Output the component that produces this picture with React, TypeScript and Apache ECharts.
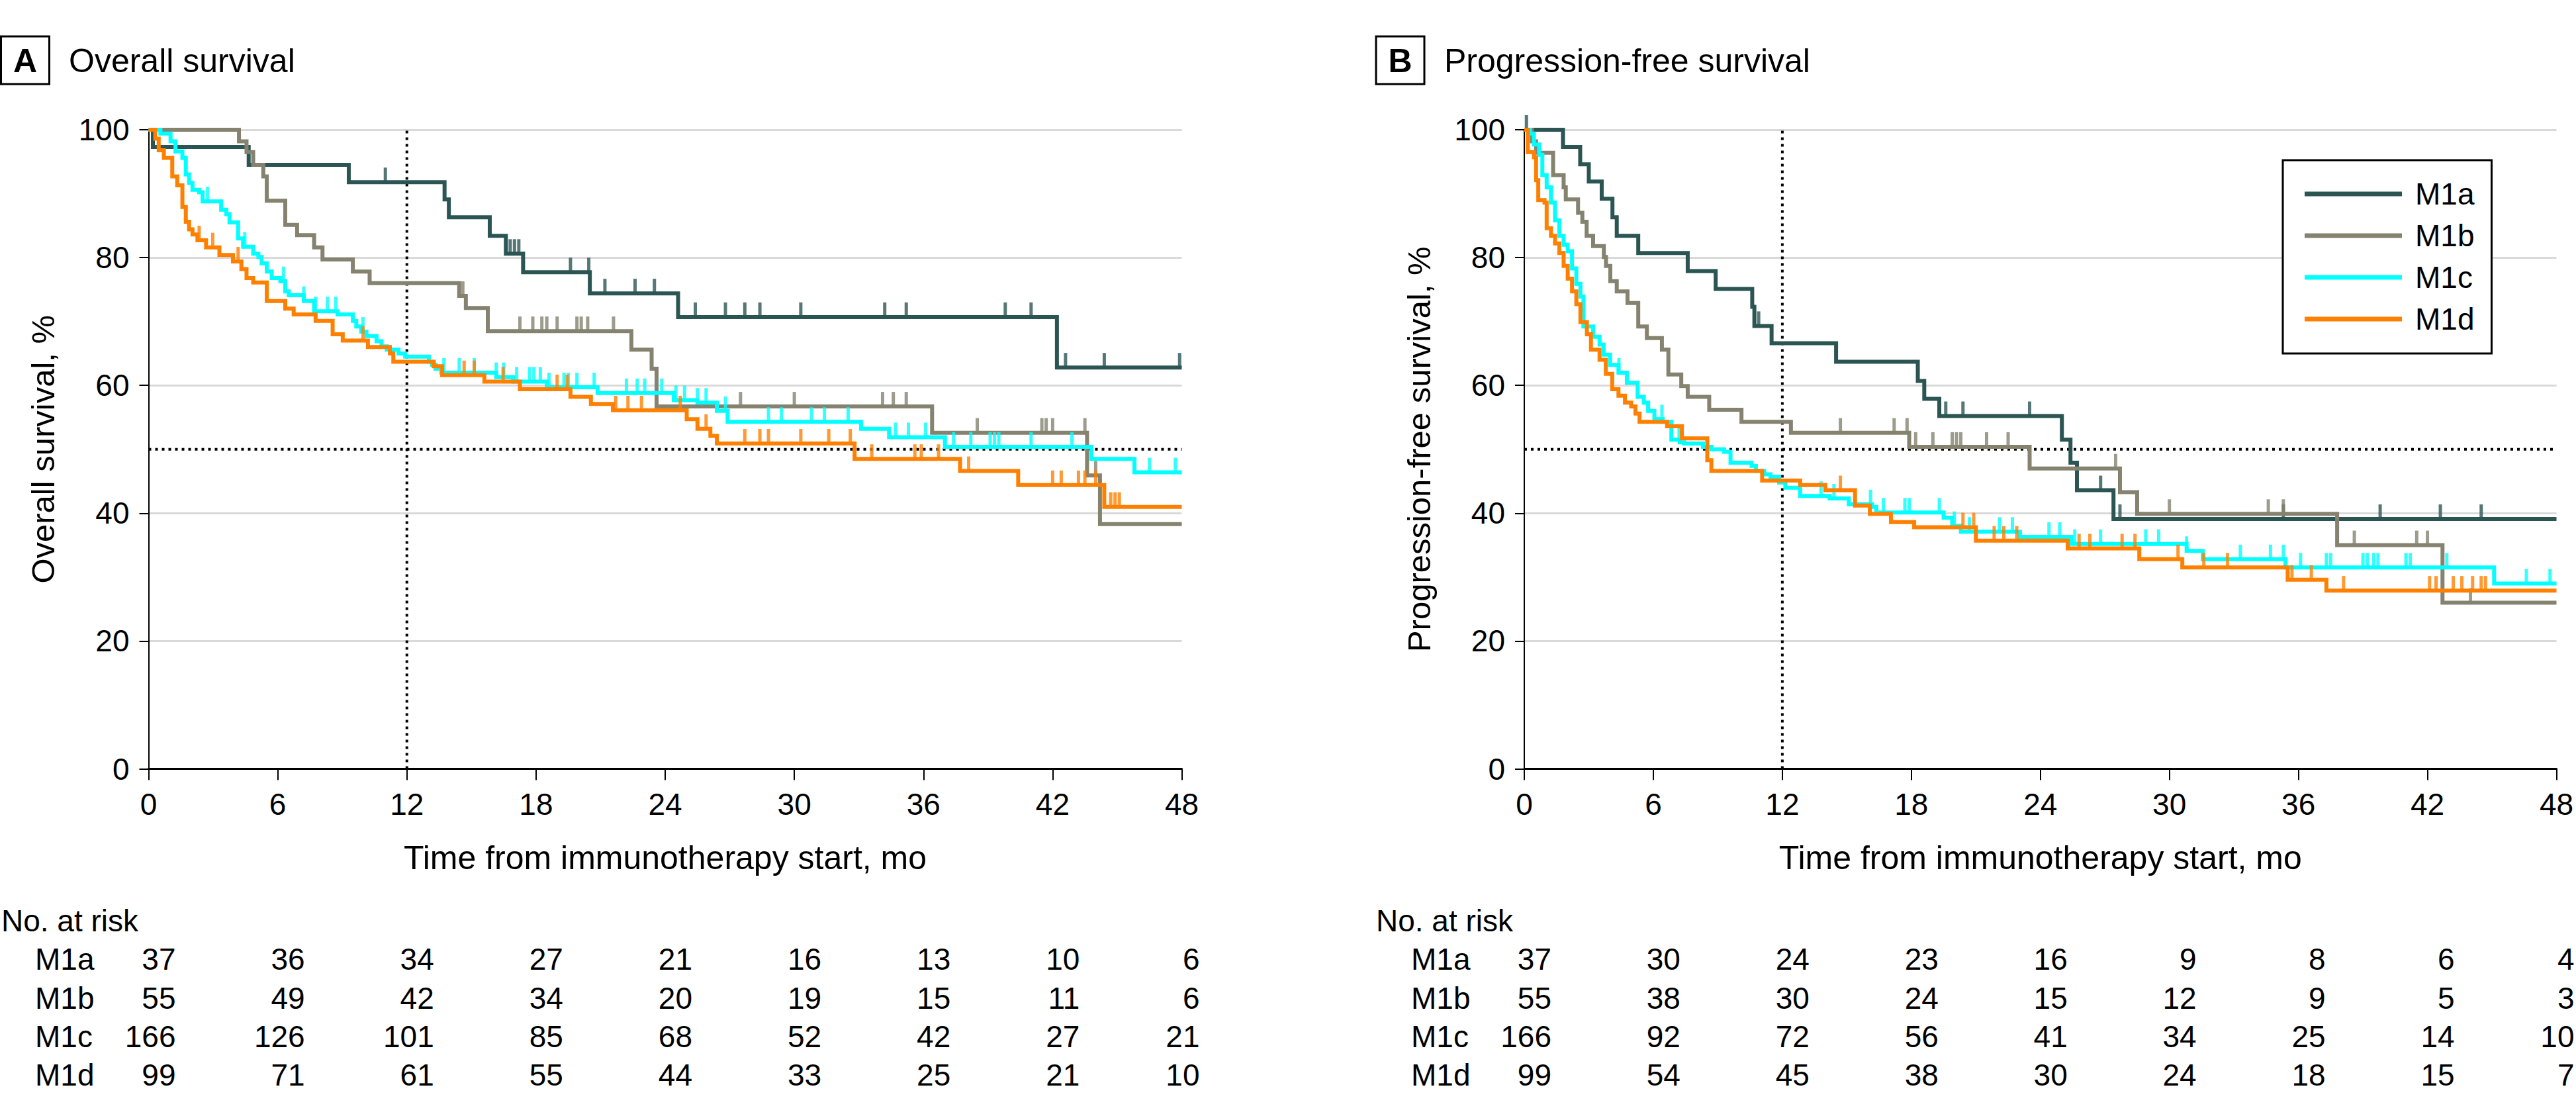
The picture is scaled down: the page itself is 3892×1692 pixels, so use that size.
import React, { useEffect, useRef } from "react";
import * as echarts from "echarts";

const FONT = '"Liberation Sans", Arial, sans-serif';
const groups = ["M1a", "M1b", "M1c", "M1d"];
const colors = ["#2b5553", "#85836f", "#00ffff", "#ff8000"];
const months = [0, 6, 12, 18, 24, 30, 36, 42, 48];
const refMonth = 12;
const refSurvival = 50;

// ---------- Overall survival (panel A) ----------
const osM1aSteps = [[0,100],[0.2,97.3],[4.65,94.5],[9.3,91.8],[13.75,89.1],[13.95,86.3],[15.85,83.4],[16.6,80.6],[17.4,77.7],[20.5,74.4],[24.6,70.7],[42.2,62.8],[48,62.8]];
const osM1aCens = [11.0,16.8,17.0,17.2,19.6,20.45,21.2,22.6,23.5,25.4,26.8,27.7,28.4,30.3,34.2,35.2,39.8,41.0,42.6,44.4,47.9];
const osM1bSteps = [[0,100],[4.2,98.2],[4.55,96.5],[4.86,94.5],[5.33,92.7],[5.49,88.9],[6.35,85.1],[6.9,83.5],[7.69,81.6],[8.08,79.7],[9.49,77.8],[10.27,76.0],[14.43,74.0],[14.74,72.1],[15.76,68.5],[22.43,65.6],[23.37,62.6],[23.6,56.7],[36.4,52.6],[43.6,45.9],[44.2,38.3],[48,38.3]];
const osM1bCens = [14.6,17.25,17.85,18.27,18.5,18.98,19.9,20.1,20.4,21.6,27.5,30.0,34.1,34.6,35.2,38.5,41.5,41.7,42.0,43.5,44.0];
const osM1cSteps = [[0,100],[0.55,99.4],[1.02,98.2],[1.25,96.6],[1.57,95.6],[1.73,93.0],[1.88,91.7],[2.04,90.6],[2.35,90.2],[2.51,88.8],[3.37,87.5],[3.61,86.8],[3.76,85.5],[4.16,83.0],[4.39,81.7],[4.86,80.6],[5.1,80.1],[5.25,79.1],[5.49,77.8],[5.72,76.8],[6.12,76.3],[6.35,74.7],[6.51,74.1],[7.21,73.2],[7.69,71.6],[8.78,71.1],[9.49,70.1],[9.65,69.2],[9.88,68.4],[10.12,67.7],[10.59,66.9],[10.82,66.1],[11.06,65.6],[11.61,65.0],[11.92,64.5],[13.02,63.7],[13.17,63.2],[13.33,62.6],[13.6,62.0],[16.15,61.3],[16.94,60.6],[18.5,59.7],[20.86,58.8],[24.4,57.7],[25.5,57.3],[26.4,56.0],[26.9,54.3],[33.1,53.2],[34.4,51.9],[37.0,50.4],[43.8,48.5],[45.8,46.4],[48,46.4]];
const osM1cCens = [2.74,4.47,6.27,7.21,7.76,8.31,8.7,9.96,13.72,14.43,15.13,16.15,16.5,17.1,17.7,17.9,18.2,18.6,19.3,19.5,19.9,20.7,22.2,22.7,23.05,23.84,24.5,24.9,25.5,25.9,26.8,28.8,29.4,30.8,31.4,32.5,34.7,35.3,36.1,37.4,38.2,39.1,39.3,39.5,41.0,42.9,46.5,47.7];
const osM1dSteps = [[0,100],[0.31,98.6],[0.47,96.8],[0.71,95.6],[1.1,92.7],[1.33,91.3],[1.57,87.9],[1.73,85.6],[1.88,84.4],[2.04,83.6],[2.27,82.7],[2.67,81.6],[3.29,80.4],[3.92,79.4],[4.31,78.2],[4.55,76.8],[4.86,76.1],[5.49,73.2],[6.35,72.0],[6.74,71.1],[7.76,70.1],[8.55,68.0],[9.02,67.0],[10.19,66.0],[11.21,65.0],[11.37,63.7],[13.25,63.0],[13.64,61.6],[15.6,60.6],[17.25,59.4],[19.6,58.2],[20.55,57.1],[21.57,56.1],[25.0,54.7],[25.5,53.2],[26.1,52.1],[26.4,50.9],[32.8,48.5],[37.7,46.6],[40.4,44.4],[44.4,41.0],[48,41.0]];
const osM1dCens = [2.35,2.98,4.16,9.96,14.66,15.13,16.47,18.98,19.45,21.7,22.27,22.9,24.7,25.9,27.7,28.4,28.8,30.3,31.6,32.6,33.6,35.6,35.9,36.7,38.1,42.0,42.4,43.2,43.5,44.0,44.7,44.9,45.1];

// ---------- Progression-free survival (panel B) ----------
const pfsM1aSteps = [[0,100],[1.8,97.3],[2.6,94.6],[3.0,91.9],[3.6,89.2],[4.1,86.3],[4.3,83.4],[5.3,80.7],[7.6,77.9],[8.9,75.1],[10.6,72.3],[10.7,69.3],[11.5,66.6],[14.5,63.7],[18.3,60.7],[18.6,57.9],[19.3,55.2],[25.0,51.5],[25.4,47.9],[25.7,43.6],[27.4,39.1],[48,39.1]];
const pfsM1aCens = [0.1,10.9,19.6,20.4,23.5,26.8,27.7,35.3,39.8,42.6,44.5];
const pfsM1bSteps = [[0,100],[0.35,98.2],[0.55,96.4],[1.34,92.9],[1.83,91.0],[1.93,89.1],[2.5,87.0],[2.7,85.6],[2.9,83.4],[3.2,81.8],[3.7,80.1],[3.8,78.7],[4.0,76.3],[4.3,74.7],[4.8,72.9],[5.3,69.2],[5.7,67.4],[6.4,65.6],[6.7,61.7],[7.3,59.9],[7.6,58.2],[8.6,56.2],[10.1,54.3],[12.4,52.6],[17.9,50.4],[23.5,47.0],[27.7,43.3],[28.5,39.9],[37.8,35.0],[42.7,26.0],[48,26.0]];
const pfsM1bCens = [14.7,17.2,17.8,18.2,19.0,19.9,20.1,20.3,21.5,22.5,27.5,30.0,34.6,35.3,38.6,41.5,42.0,44.0];
const pfsM1cSteps = [[0,100],[0.26,99.4],[0.45,97.7],[0.69,96.1],[0.84,92.9],[1.04,91.0],[1.24,88.6],[1.43,85.8],[1.63,83.4],[1.83,82.0],[2.02,81.0],[2.22,78.3],[2.42,75.9],[2.61,73.9],[2.75,69.2],[3.2,67.6],[3.5,66.4],[3.69,64.8],[3.99,63.2],[4.38,62.0],[4.77,60.4],[5.27,58.2],[5.56,57.3],[5.76,56.0],[6.05,54.7],[6.44,54.3],[6.84,51.5],[7.23,51.1],[7.43,50.9],[8.31,50.4],[8.7,50.0],[9.29,49.6],[9.59,47.9],[10.57,47.4],[10.77,46.6],[11.16,46.1],[11.45,45.7],[11.85,44.8],[12.14,44.0],[12.83,42.7],[14.2,42.3],[15.09,41.4],[16.17,41.0],[16.37,40.1],[19.5,39.3],[19.9,38.0],[20.3,37.1],[23.05,36.3],[25.45,35.2],[30.8,34.1],[31.55,32.8],[35.4,31.5],[45.1,29.0],[48,29.0]];
const pfsM1cCens = [4.4,6.4,7.2,13.8,14.4,16.1,16.7,17.7,17.9,19.3,20.0,20.7,22.1,22.7,24.4,24.9,25.6,26.8,28.9,29.5,30.8,33.3,34.7,35.3,36.1,37.3,37.5,39.0,39.2,39.5,39.7,41.0,41.2,42.9,46.6,47.7];
const pfsM1dSteps = [[0,100],[0.16,96.5],[0.45,95.7],[0.55,92.1],[0.65,89.0],[0.94,88.6],[1.04,84.6],[1.24,83.4],[1.43,82.2],[1.63,80.7],[1.83,78.7],[2.02,76.7],[2.22,74.7],[2.42,72.7],[2.61,69.9],[2.91,68.0],[3.1,65.6],[3.5,64.0],[3.79,61.8],[4.09,59.4],[4.38,58.4],[4.68,57.3],[4.97,56.7],[5.17,55.6],[5.36,54.3],[6.64,53.6],[7.33,51.7],[8.51,48.3],[8.7,46.6],[11.06,45.1],[12.83,44.4],[14.0,43.6],[15.38,41.2],[16.07,39.9],[17.05,38.6],[18.13,37.8],[21.0,35.7],[25.27,34.5],[28.6,32.8],[30.6,31.5],[35.5,29.6],[37.3,27.9],[48,27.9]];
const pfsM1dCens = [14.7,20.4,20.9,21.85,22.3,22.9,25.8,26.3,27.8,28.4,30.4,31.6,32.7,35.7,36.6,38.1,42.1,42.4,43.2,43.6,44.1,44.5,44.7];

// ---------- Numbers at risk ----------
const osRiskM1a = [37, 36, 34, 27, 21, 16, 13, 10, 6];
const osRiskM1b = [55, 49, 42, 34, 20, 19, 15, 11, 6];
const osRiskM1c = [166, 126, 101, 85, 68, 52, 42, 27, 21];
const osRiskM1d = [99, 71, 61, 55, 44, 33, 25, 21, 10];
const pfsRiskM1a = [37, 30, 24, 23, 16, 9, 8, 6, 4];
const pfsRiskM1b = [55, 38, 30, 24, 15, 12, 9, 5, 3];
const pfsRiskM1c = [166, 92, 72, 56, 41, 34, 25, 14, 10];
const pfsRiskM1d = [99, 54, 45, 38, 30, 24, 18, 15, 7];

const panels = [
  {
    letter: "A", title: "Overall survival", yName: "Overall survival, %",
    steps: [osM1aSteps, osM1bSteps, osM1cSteps, osM1dSteps],
    cens: [osM1aCens, osM1bCens, osM1cCens, osM1dCens],
    risk: [osRiskM1a, osRiskM1b, osRiskM1c, osRiskM1d],
    grid: { left: 224.5, top: 196, width: 1561, height: 965.5 },
    boxX: 1.5, titleX: 104, riskX: 2, rowX: 53,
  },
  {
    letter: "B", title: "Progression-free survival", yName: "Progression-free survival, %",
    steps: [pfsM1aSteps, pfsM1bSteps, pfsM1cSteps, pfsM1dSteps],
    cens: [pfsM1aCens, pfsM1bCens, pfsM1cCens, pfsM1dCens],
    risk: [pfsRiskM1a, pfsRiskM1b, pfsRiskM1c, pfsRiskM1d],
    grid: { left: 2303, top: 196, width: 1559.5, height: 965.5 },
    boxX: 2079, titleX: 2182, riskX: 2079, rowX: 2132,
  },
];

function valueAt(steps: number[][], t: number) {
  let v = steps[0][1];
  for (const [st, sv] of steps) {
    if (st <= t) v = sv;
    else break;
  }
  return v;
}

export default function App() {
  const ref = useRef<HTMLDivElement>(null);
  useEffect(() => {
    document.body.style.margin = "0";
    const chart = echarts.init(ref.current!, null, { renderer: "svg", width: 3892, height: 1692 });
    const series: any[] = [];
    const xAxes: any[] = [];
    const yAxes: any[] = [];
    panels.forEach((p, pi) => {
      xAxes.push({
        type: "value", gridIndex: pi, min: 0, max: 48, interval: 6,
        axisLine: { show: true, onZero: false, lineStyle: { color: "#000", width: 3 } },
        axisTick: { show: true, length: 17, lineStyle: { color: "#000", width: 2 } },
        axisLabel: { fontSize: 46, fontFamily: FONT, color: "#000", margin: 30 },
        splitLine: { show: false },
        name: "Time from immunotherapy start, mo", nameLocation: "middle", nameGap: 109,
        nameTextStyle: { fontSize: 50, fontFamily: FONT, color: "#000" },
      });
      yAxes.push({
        type: "value", gridIndex: pi, min: 0, max: 100, interval: 20,
        axisLine: { show: true, lineStyle: { color: "#000", width: 2 } },
        axisTick: { show: true, length: 14, lineStyle: { color: "#000", width: 2 } },
        axisLabel: { fontSize: 46, fontFamily: FONT, color: "#000", margin: 29 },
        splitLine: { show: true, lineStyle: { color: "#d9d9d9", width: 3 } },
        name: p.yName, nameLocation: "middle", nameGap: 135,
        nameTextStyle: { fontSize: 49, fontFamily: FONT, color: "#000" },
      });
      // dotted reference lines
      series.push({
        name: "ref-v-" + pi, type: "line", xAxisIndex: pi, yAxisIndex: pi, silent: true, z: 2,
        showSymbol: false, symbol: "none",
        data: [[refMonth, 0], [refMonth, 100]],
        lineStyle: { color: "#000", width: 4, type: [4, 6] },
      });
      series.push({
        name: "ref-h-" + pi, type: "line", xAxisIndex: pi, yAxisIndex: pi, silent: true, z: 2,
        showSymbol: false, symbol: "none",
        data: [[0, refSurvival], [48, refSurvival]],
        lineStyle: { color: "#000", width: 4, type: [4, 6] },
      });
      groups.forEach((g, gi) => {
        series.push({
          name: g, type: "line", xAxisIndex: pi, yAxisIndex: pi, step: "end", z: 3 + gi * 0.1,
          showSymbol: false, symbol: "none", silent: true,
          data: p.steps[gi],
          itemStyle: { color: colors[gi] },
          lineStyle: { color: colors[gi], width: 6, join: "miter", cap: "butt" },
        });
        series.push({
          name: g + " censored", type: "scatter", xAxisIndex: pi, yAxisIndex: pi, z: 3 + gi * 0.1,
          silent: true, clip: false,
          symbol: "rect", symbolSize: [5, 22], symbolOffset: [0, -11],
          data: p.cens[gi].map((t) => [t, valueAt(p.steps[gi], t)]),
          itemStyle: { color: colors[gi] },
        });
      });
    });

    chart.setOption({
      animation: false,
      backgroundColor: "#fff",
      textStyle: { fontFamily: FONT },
      grid: panels.map((p) => ({ ...p.grid, containLabel: false })),
      xAxis: xAxes,
      yAxis: yAxes,
      legend: {
        show: true, selectedMode: false, orient: "vertical",
        left: 3449, top: 242,
        data: groups.map((name) => ({ name, icon: "rect" })),
        itemWidth: 147, itemHeight: 7, itemGap: 13,
        padding: [26, 26, 27, 33],
        borderColor: "#000", borderWidth: 3, backgroundColor: "#fff",
        textStyle: { fontSize: 46, fontFamily: FONT, color: "#000", lineHeight: 50, padding: [0, 0, 0, 15] },
      },
      series,
    });

    const graphics: any[] = [];
    const rowY = [1449, 1508, 1566, 1624];
    panels.forEach((p, pi) => {
      graphics.push({
        type: "rect", shape: { x: p.boxX, y: 55, width: 73, height: 72 },
        style: { fill: "none", stroke: "#000", lineWidth: 3 },
      });
      graphics.push({
        type: "text", x: p.boxX + 36.5, y: 92,
        style: { text: p.letter, fill: "#000", fontSize: 50, fontWeight: "bold", fontFamily: FONT, align: "center", verticalAlign: "middle" },
      });
      graphics.push({
        type: "text", x: p.titleX, y: 92,
        style: { text: p.title, fill: "#000", fontSize: 50, fontFamily: FONT, align: "left", verticalAlign: "middle" },
      });
      graphics.push({
        type: "text", x: p.riskX, y: 1391,
        style: { text: "No. at risk", fill: "#000", fontSize: 46, fontFamily: FONT, align: "left", verticalAlign: "middle" },
      });
      groups.forEach((g, gi) => {
        graphics.push({
          type: "text", x: p.rowX, y: rowY[gi],
          style: { text: g, fill: "#000", fontSize: 46, fontFamily: FONT, align: "left", verticalAlign: "middle" },
        });
        p.risk[gi].forEach((n, k) => {
          const px = chart.convertToPixel({ gridIndex: pi } as any, [months[k], 0]) as number[];
          const off = k === months.length - 1 ? 27 : 41;
          graphics.push({
            type: "text", x: px[0] + off, y: rowY[gi],
            style: { text: String(n), fill: "#000", fontSize: 46, fontFamily: FONT, align: "right", verticalAlign: "middle" },
          });
        });
      });
    });
    chart.setOption({ graphic: graphics });

    return () => chart.dispose();
  }, []);
  return <div ref={ref} style={{ position: "absolute", left: 0, top: 0, width: 3892, height: 1692 }} />;
}
